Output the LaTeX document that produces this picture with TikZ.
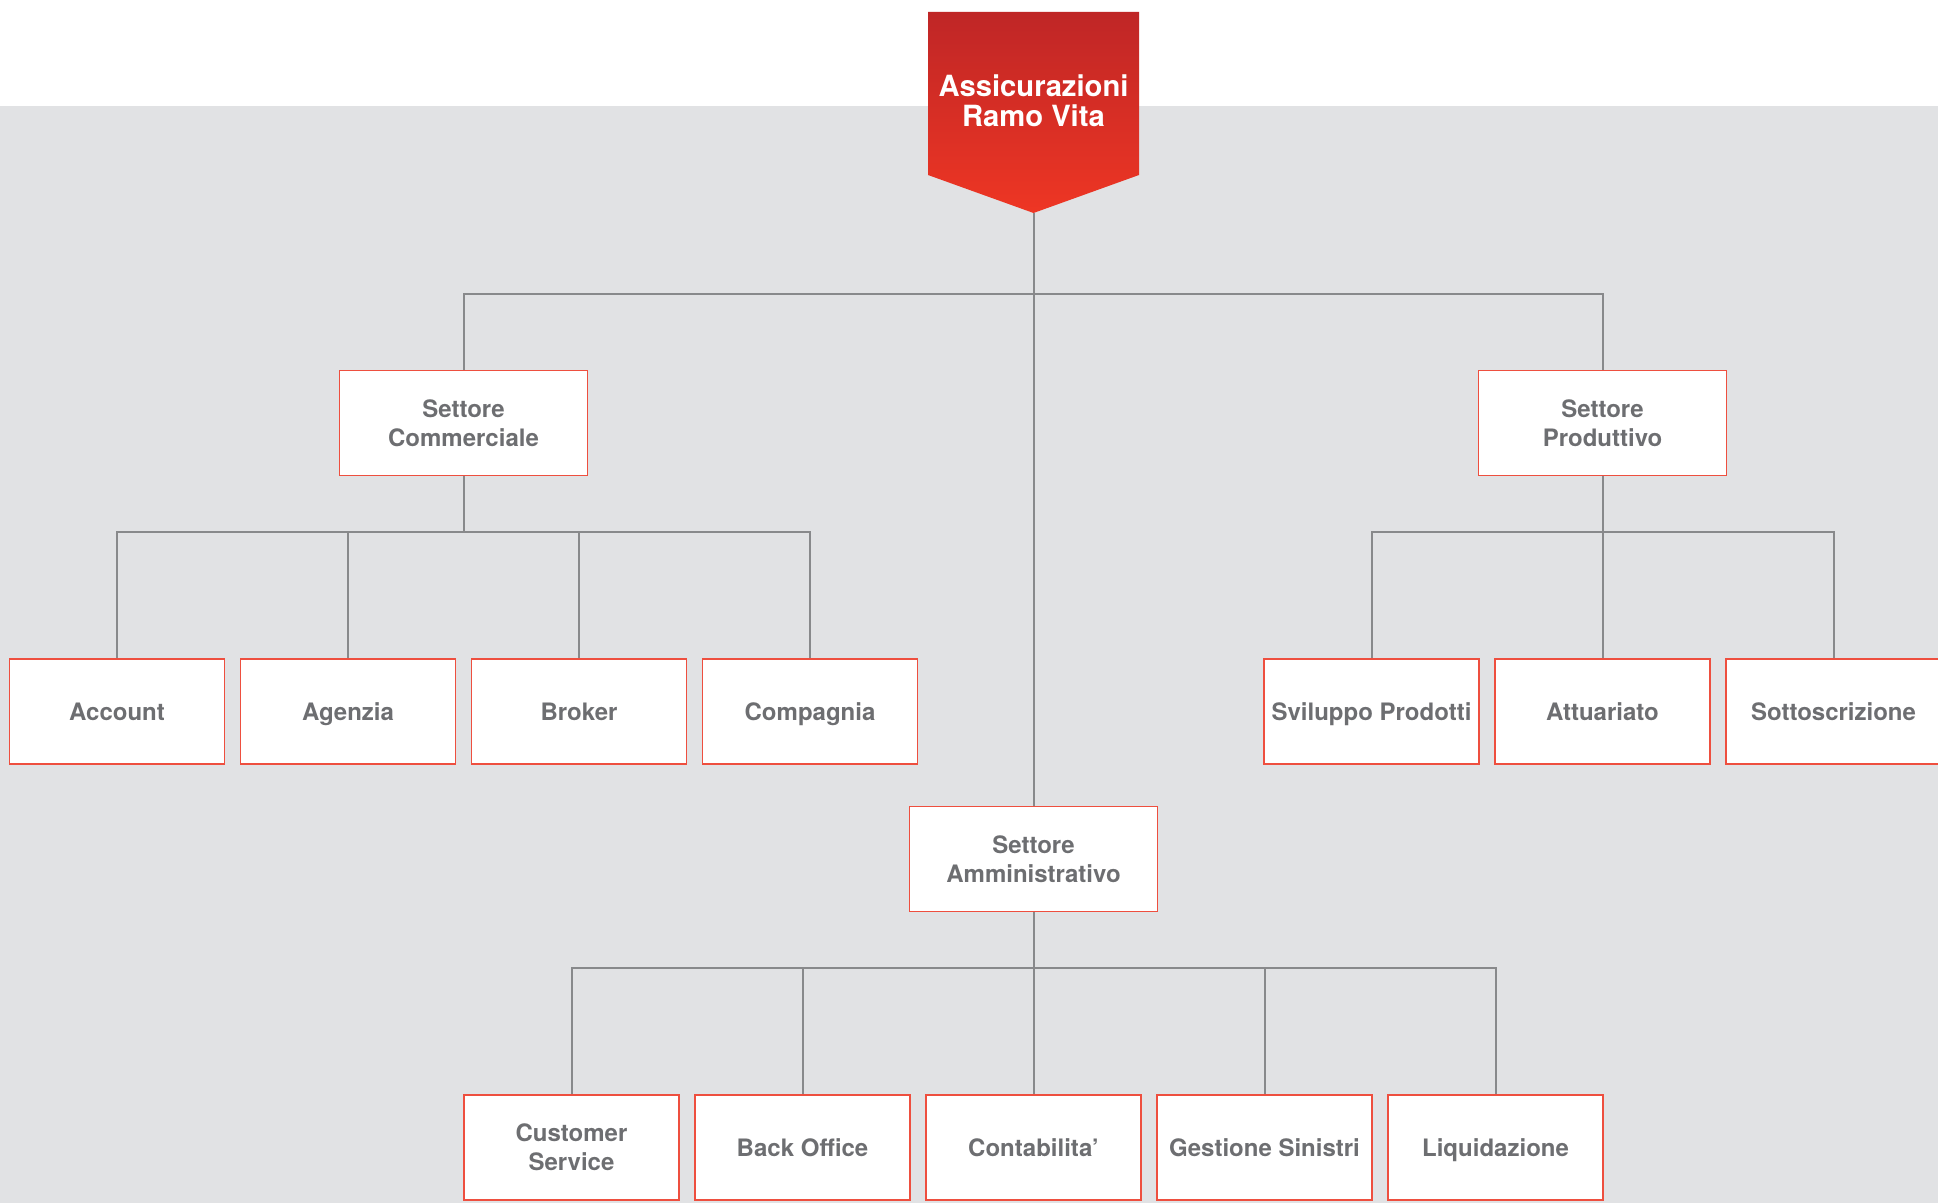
\documentclass[tikz,border=0pt]{standalone}
\usepackage{fontspec}
\setmainfont{TeX Gyre Heros}
\usetikzlibrary{calc}
\definecolor{bggray}{HTML}{E1E2E4}
\definecolor{txtgray}{HTML}{6D6E71}
\definecolor{boxred}{HTML}{EE4F3F}
\definecolor{linegray}{HTML}{88898B}
\definecolor{bannertop}{HTML}{BF2626}
\definecolor{bannerbot}{HTML}{EE3624}
\tikzset{
	unit/.style={draw=boxred,fill=white,line width=0.9pt,minimum width=107.5pt,minimum height=52.5pt,inner sep=2pt,text depth=0pt,align=center,text=txtgray,font=\fontsize{12}{14.5}\selectfont\bfseries},
	sector/.style={unit,minimum width=124pt},
	link/.style={draw=linegray,line width=1pt},
}

\begin{document}
\begin{tikzpicture}[x=0.5pt,y=-0.5pt]
		\useasboundingbox (0,0) rectangle (1938,1203);
		\fill[white] (0,0) rectangle (1938,106);
		\fill[bggray] (0,106) rectangle (1938,1203);
		% banner
		\shade[top color=bannertop,bottom color=bannerbot] (928,12) -- (1139,12) -- (1139,175) -- (1033.5,213) -- (928,175) -- cycle;
		\coordinate (tip) at (1033.5,213);
		\node[text=white,align=center,font=\fontsize{14.6}{15}\selectfont\bfseries] (root) at (1033.5,101) {Assicurazioni\\Ramo Vita};
		% sectors
		\node[sector] (comm) at (463.5,423) {Settore\\Commerciale};
		\node[sector] (prod) at (1602.5,423) {Settore\\Produttivo};
		\node[sector] (amm) at (1033.5,859) {Settore\\Amministrativo};
		\node[unit] (acc) at (117,711.5) {Account};
		\node[unit] (age) at (348,711.5) {Agenzia};
		\node[unit] (bro) at (579,711.5) {Broker};
		\node[unit] (cmp) at (810,711.5) {Compagnia};
		\node[unit] (svi) at (1371.5,711.5) {Sviluppo Prodotti};
		\node[unit] (att) at (1602.5,711.5) {Attuariato};
		\node[unit] (sot) at (1833.5,711.5) {Sottoscrizione};
		\node[unit] (cus) at (571.5,1147.5) {Customer\\Service};
		\node[unit] (bof) at (802.5,1147.5) {Back Office};
		\node[unit] (cnt) at (1033.5,1147.5) {Contabilita’};
		\node[unit] (ges) at (1264.5,1147.5) {Gestione Sinistri};
		\node[unit] (liq) at (1495.5,1147.5) {Liquidazione};
		% links
		\draw[link] (tip) -- (amm.north);
		\draw[link] (comm.north) -- ++(0,-76) -| (prod.north);
		\draw[link] (comm.south) -- ++(0,56) coordinate (cbus);
		\foreach \n in {acc,age,bro,cmp} \draw[link] (cbus) -| (\n.north);
		\draw[link] (prod.south) -- ++(0,56) coordinate (pbus);
		\foreach \n in {svi,att,sot} \draw[link] (pbus) -| (\n.north);
		\draw[link] (amm.south) -- ++(0,56) coordinate (abus);
		\foreach \n in {cus,bof,cnt,ges,liq} \draw[link] (abus) -| (\n.north);
	\end{tikzpicture}
\end{document}
